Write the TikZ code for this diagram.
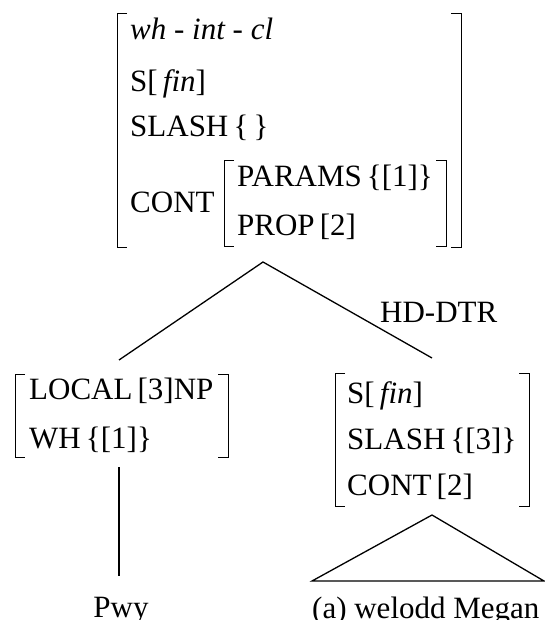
\documentclass[tikz,border=0pt]{standalone}
\usepackage{fontspec}
\setmainfont{Liberation Serif}
\begin{document}
\begin{tikzpicture}[x=1pt,y=-1pt,
  txt/.style={anchor=base west,inner sep=0pt,font=\fontsize{31}{36}\selectfont},
  ctxt/.style={anchor=base,inner sep=0pt,font=\fontsize{31}{36}\selectfont},
  br/.style={line width=1pt},
  edge/.style={line width=1.3pt}]
\useasboundingbox (0,0) rectangle (545,620);
% top AVM
\node[txt] (t1) at (130,40) {\textit{wh - int - cl}};
\node[txt] (t2) at (130,92) {S[\,\textit{fin}]};
\node[txt] (t3) at (130,137) {SLASH\,\{\,\}};
\node[txt] (t4) at (130,212) {CONT};
\node[txt] (t5) at (237,187) {PARAMS\,\{[1]\}};
\node[txt] (t6) at (237,235) {PROP\,[2]};
\draw[br] (127,14) -- (117,14) -- (117,247) -- (127,247);
\draw[br] (451,14) -- (461,14) -- (461,247) -- (451,247);
\draw[br] (234,161) -- (224,161) -- (224,246) -- (234,246);
\draw[br] (436,161) -- (446,161) -- (446,246) -- (436,246);
% tree
\coordinate (top) at (263,262);
\coordinate (lft) at (119,360);
\coordinate (rgt) at (432,358);
\draw[edge] (lft) -- (top) -- (rgt);
\node[txt] (hd) at (380,322) {HD-DTR};
% left AVM
\node[txt] (l1) at (29,399) {LOCAL\,[3]NP};
\node[txt] (l2) at (29,448) {WH\,\{[1]\}};
\draw[br] (25,374) -- (15,374) -- (15,457) -- (25,457);
\draw[br] (218,374) -- (228,374) -- (228,457) -- (218,457);
\coordinate (lv1) at (119,467);
\coordinate (lv2) at (119,576);
\draw[edge] (lv1) -- (lv2);
\node[ctxt] (pwy) at (121,617) {Pwy};
% right AVM
\node[txt] (r1) at (347,403) {S[\,\textit{fin}]};
\node[txt] (r2) at (347,449) {SLASH\,\{[3]\}};
\node[txt] (r3) at (347,495) {CONT\,[2]};
\draw[br] (345,373) -- (335,373) -- (335,506) -- (345,506);
\draw[br] (519,373) -- (529,373) -- (529,506) -- (519,506);
\coordinate (ta) at (432,515);
\coordinate (tl) at (312,581);
\coordinate (tr) at (544,581);
\draw[edge] (tl) -- (ta) -- (tr) -- cycle;
\node[txt] (sent) at (312,618) {(a) welodd Megan};
\end{tikzpicture}
\end{document}
